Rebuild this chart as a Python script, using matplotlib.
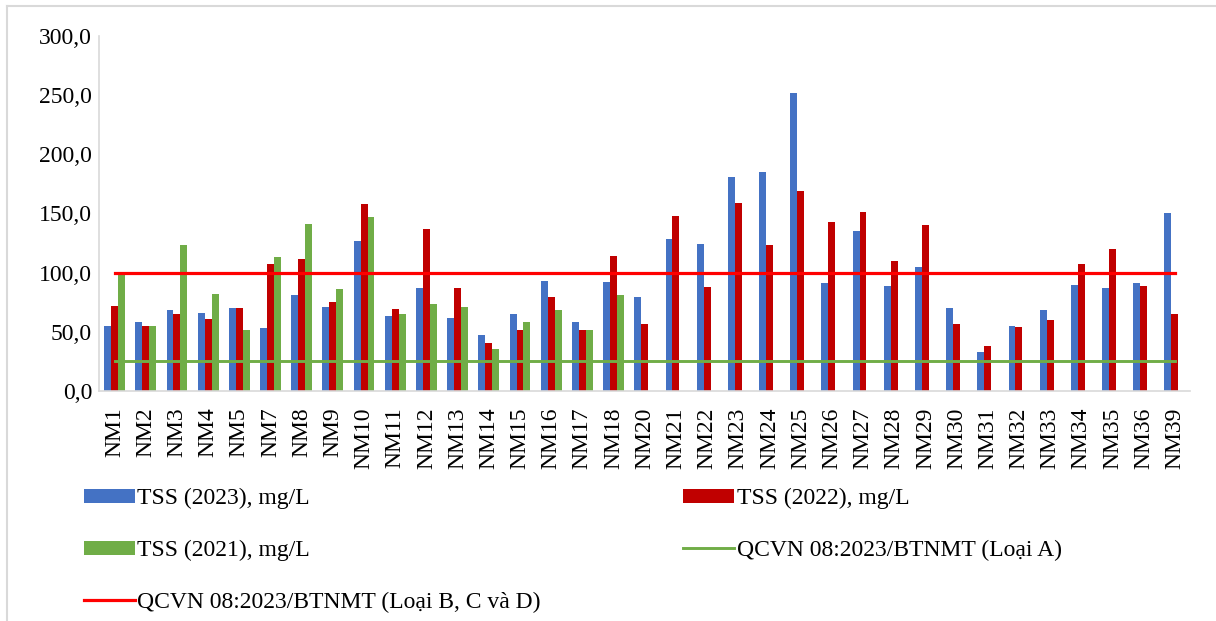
import matplotlib
matplotlib.use("Agg")
import matplotlib.pyplot as plt
from matplotlib.lines import Line2D
import numpy as np

# Điểm quan trắc nước mặt
diem = ['NM1', 'NM2', 'NM3', 'NM4', 'NM5', 'NM7', 'NM8', 'NM9', 'NM10', 'NM11',
        'NM12', 'NM13', 'NM14', 'NM15', 'NM16', 'NM17', 'NM18', 'NM20', 'NM21', 'NM22',
        'NM23', 'NM24', 'NM25', 'NM26', 'NM27', 'NM28', 'NM29', 'NM30', 'NM31', 'NM32',
        'NM33', 'NM34', 'NM35', 'NM36', 'NM39']

tss_2023 = [55, 58.5, 68, 66, 70, 53, 81, 71, 127, 63,
            86.5, 61.5, 47.5, 64.5, 93, 58, 92, 79, 128, 124,
            181, 185.5, 252, 91, 135, 89, 104.5, 70, 33, 55,
            68, 89.5, 87, 91, 150]
tss_2022 = [71.5, 54.5, 65, 60.5, 70, 107.5, 111.5, 75, 158, 69,
            136.5, 87, 40, 51.5, 79, 51, 114, 56, 148, 88,
            158.5, 123, 169, 142.5, 151, 109.5, 140.5, 56, 37.5, 53.5,
            59.5, 107.5, 119.5, 88.5, 65]
# 2021 chỉ có số liệu đến NM18
tss_2021 = [99, 54.5, 123, 82, 51, 113, 141, 86, 147, 65,
            73, 71, 35.5, 58.5, 68, 51, 81]

qcvn_a = 25
qcvn_bcd = 100

plt.rcParams['font.family'] = ['Liberation Serif', 'DejaVu Serif']

fig = plt.figure(figsize=(12.16, 6.21), dpi=100)
ax = fig.add_axes([0.0814, 0.371, 0.8976, 0.5705])

x = np.arange(len(diem))
w = 1 / 4.5
ax.bar(x - w, tss_2023, w, color='#4472C4', label='TSS (2023), mg/L')
ax.bar(x, tss_2022, w, color='#C00000', label='TSS (2022), mg/L')
ax.bar(np.arange(len(tss_2021)) + w, tss_2021, w, color='#70AD47', label='TSS (2021), mg/L')
ax.plot(x, [qcvn_a] * len(diem), color='#70AD47', lw=2.1, label='QCVN 08:2023/BTNMT (Loại A)')
ax.plot(x, [qcvn_bcd] * len(diem), color='#FF0000', lw=2.3, label='QCVN 08:2023/BTNMT (Loại B, C và D)')

ax.set_xlim(-0.5, len(diem) - 0.5)
ax.set_ylim(0, 300)
ax.set_yticks(np.arange(0, 301, 50))
ax.set_yticklabels([f'{v:.1f}'.replace('.', ',') for v in np.arange(0, 301, 50)], fontsize=17)
ax.set_xticks(x)
ax.set_xticklabels(diem, rotation=90, fontsize=17)
ax.tick_params(axis='both', length=0)
ax.tick_params(axis='x', pad=12)
ax.tick_params(axis='y', pad=5)

for s in ['top', 'right']:
    ax.spines[s].set_visible(False)
for s in ['left', 'bottom']:
    ax.spines[s].set_color('#D9D9D9')
    ax.spines[s].set_linewidth(1.2)

h, l = ax.get_legend_handles_labels()
by = dict(zip(l, h))
order = ['TSS (2023), mg/L', 'TSS (2021), mg/L', 'QCVN 08:2023/BTNMT (Loại B, C và D)',
         'TSS (2022), mg/L', 'QCVN 08:2023/BTNMT (Loại A)']
fig.legend([by[k] for k in order], order, ncol=2, loc='upper left',
           bbox_to_anchor=(84 / 1216, 1 - 488 / 621), frameon=False, fontsize=17,
           handlelength=2.15, handleheight=0.55, handletextpad=0.1,
           columnspacing=6.05, labelspacing=1.3, borderpad=0, borderaxespad=0)

# khung viền biểu đồ
fig.add_artist(Line2D([7 / 1216, 1], [1 - 6 / 621, 1 - 6 / 621], color='#D9D9D9', lw=1.5))
fig.add_artist(Line2D([7 / 1216, 7 / 1216], [0, 1 - 6 / 621], color='#D9D9D9', lw=1.5))

fig.savefig('out.png', dpi=100)
